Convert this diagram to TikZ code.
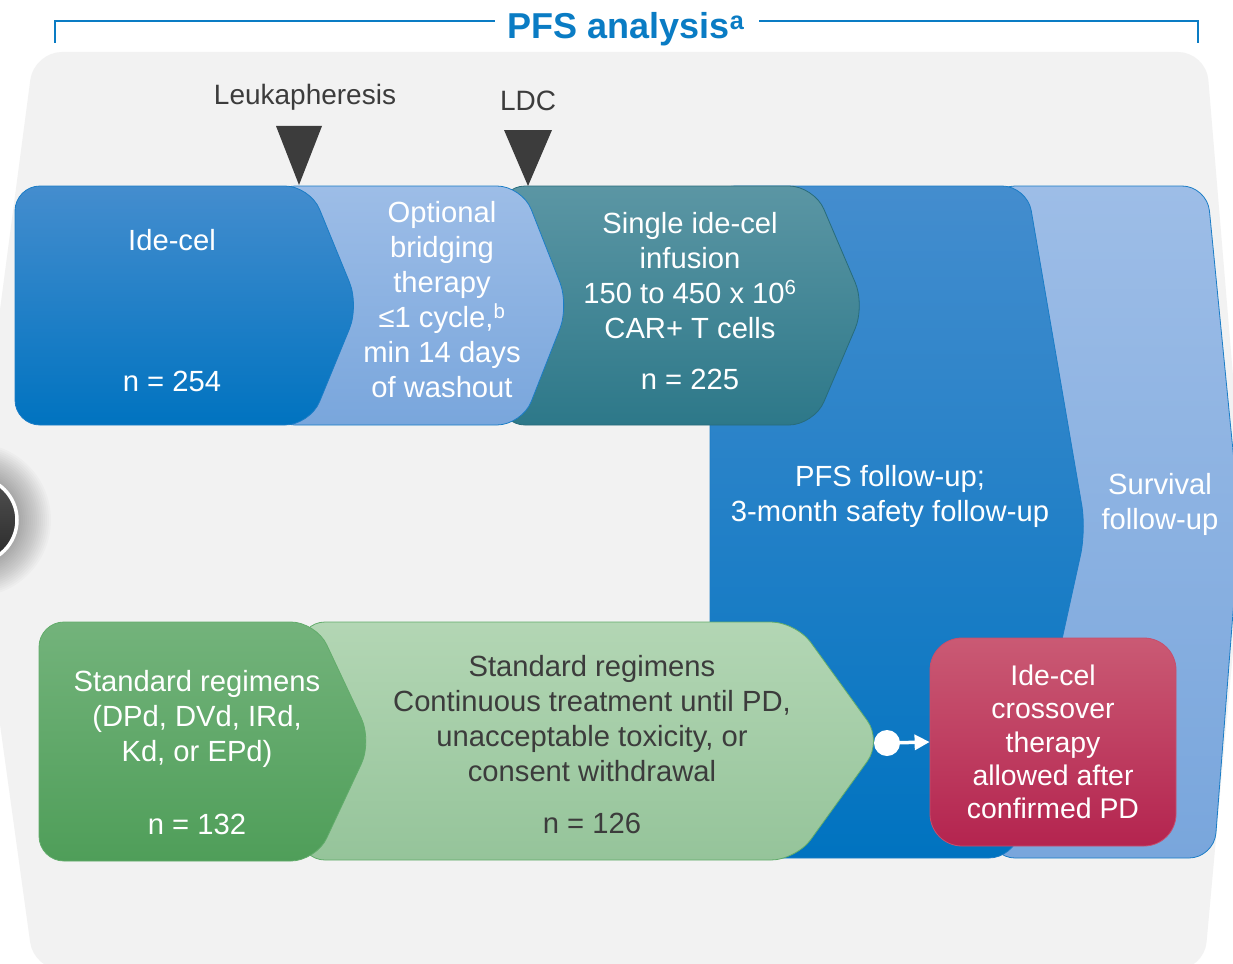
\documentclass[tikz,border=0pt]{standalone}
\usepackage{fontspec}
\setmainfont{Liberation Sans}
\usetikzlibrary{arrows.meta}
\pgfdeclarelayer{background}
\pgfdeclarelayer{foreground}
\pgfsetlayers{background,main,foreground}

\definecolor{panelgray}{HTML}{F2F2F2}
\definecolor{titleblue}{HTML}{0A7CC4}
\definecolor{deepblueT}{HTML}{448DCE}
\definecolor{deepblueB}{HTML}{0073C0}
\definecolor{paleblueT}{HTML}{9DBDE7}
\definecolor{paleblueB}{HTML}{79A6DC}
\definecolor{tealT}{HTML}{5B96A4}
\definecolor{tealB}{HTML}{2D7889}
\definecolor{greenT}{HTML}{73B37B}
\definecolor{greenB}{HTML}{4F9E59}
\definecolor{mintT}{HTML}{B3D6B4}
\definecolor{mintB}{HTML}{95C49A}
\definecolor{roseT}{HTML}{CA5A74}
\definecolor{roseB}{HTML}{B4244F}
\definecolor{inkgray}{HTML}{3C3C3C}
\definecolor{edgeblue}{HTML}{1B7DC6}
\definecolor{edgegreen}{HTML}{62AC6B}

\tikzset{
  txt/.style={font=\fontsize{29.2}{35}\selectfont, align=center, inner sep=0pt, text=white},
  darktxt/.style={txt, text=inkgray},
  timetxt/.style={font=\fontsize{28}{34}\selectfont, inner sep=0pt, text=inkgray},
  arm/.style={rounded corners=25pt, line width=0.8pt},
  marker/.style={fill=inkgray, draw=none},
  bracket/.style={draw=titleblue, line width=1.3pt},
  crossbox/.style={txt, font=\fontsize{28.4}{33.3}\selectfont, rounded corners=32pt,
    minimum width=246pt, minimum height=208pt, draw=roseT!80!roseB, line width=0.8pt,
    top color=roseT, bottom color=roseB},
  link/.style={draw=white, line width=3.5pt, -{Triangle[width=15pt,length=15pt]}},
}

\begin{document}
\begin{tikzpicture}[x=1pt,y=-1pt]
\useasboundingbox (0,0) rectangle (1233,963);
\begin{pgfonlayer}{background}
\fill[white] (0,0) rectangle (1233,963);
\fill[panelgray, rounded corners=28pt] (34,52) -- (1206,52) -- (1245,520) -- (1204,970) -- (34,970) -- (-28,522) -- cycle;
% knob on the left edge
\foreach \r in {45,47,...,77} \fill[black, opacity=0.018] (-26,520) circle[radius=\r pt];
\path[draw=white, line width=3.5pt, top color=black!68, bottom color=black!84] (-26,520) circle[radius=43pt];
\end{pgfonlayer}

% title and bracket
\node[font=\fontsize{36}{40}\selectfont\bfseries, text=titleblue, inner sep=0pt, anchor=base] (pfs) at (626,39) {PFS analysis\textsuperscript{a}};
\coordinate (brL) at (55,43);
\coordinate (brR) at (1198,43);
\draw[bracket] (brL) |- ([shift={(-12pt,18pt)}]pfs.base west);
\draw[bracket] (brR) |- ([shift={(14pt,18pt)}]pfs.base east);

% follow-up arms
\path[arm, draw=edgeblue, top color=paleblueT, bottom color=paleblueB] (990,186) -- (1207,186) -- (1240,522) -- (1214,858) -- (990,858) -- cycle;
\path[arm, draw=edgeblue, top color=deepblueT, bottom color=deepblueB] (710,186) -- (1027,186) -- (1086,530) -- (1014,858) -- (710,858) -- cycle;

% ide-cel arm
\path[arm, draw=tealB!90!black, top color=tealT, bottom color=tealB] (500,186) -- (814,186) -- (865,305.5) -- (814,425) -- (500,425) -- cycle;
\path[arm, draw=edgeblue, top color=paleblueT, bottom color=paleblueB] (270,186) -- (522,186) -- (569,305.5) -- (522,425) -- (270,425) -- cycle;
\path[arm, draw=edgeblue, top color=deepblueT, bottom color=deepblueB] (15,186) -- (310,186) -- (359,305.5) -- (310,425) -- (15,425) -- cycle;

% standard regimens arm
\path[arm, draw=edgegreen, top color=mintT, bottom color=mintB] (300,622) -- (796,622) -- (882,741) -- (796,860) -- (300,860) -- cycle;
\path[arm, draw=edgegreen, top color=greenT, bottom color=greenB] (39,622) -- (316,622) -- (372,741) -- (316,861) -- (39,861) -- cycle;

% timepoints
\node[timetxt] (leuk) at (305,97) {Leukapheresis};
\node[timetxt] (ldc) at (528,101) {LDC};
\fill[marker] (276,126) -- (322,126) -- (299,185) -- cycle;
\fill[marker] (504,130) -- (552,130) -- (528,186) -- cycle;

% labels
\node[txt] (idecel) at (172,240) {Ide-cel};
\node[txt] (idecelN) at (172,381) {n = 254};
\node[txt] (bridge) at (442,300) {Optional\\bridging\\therapy\\≤1 cycle,\textsuperscript{b}\\min 14 days\\of washout};
\node[txt] (infusion) at (690,276) {Single ide-cel\\infusion\\150 to 450 x 10\textsuperscript{6}\\CAR+ T cells};
\node[txt] (infusionN) at (690,379) {n = 225};
\node[txt] (pfsfu) at (890,496) {PFS follow-up;\\3-month safety follow-up};
\node[txt] (osfu) at (1160,504) {Survival\\follow-up};
\node[txt] (stdreg) at (197,719) {Standard regimens\\(DPd, DVd, IRd,\\Kd, or EPd)};
\node[txt] (stdregN) at (197,824) {n = 132};
\node[darktxt] (contreg) at (592,719) {Standard regimens\\Continuous treatment until PD,\\unacceptable toxicity, or\\consent withdrawal};
\node[darktxt] (contregN) at (592,823) {n = 126};

\begin{pgfonlayer}{foreground}
\node[crossbox] (cross) at (1053,742) {Ide-cel\\crossover\\therapy\\allowed after\\confirmed PD};
\coordinate (pd) at (887,743);
\draw[link] (pd) -- (cross.west);
\fill[white] (pd) circle[radius=13pt];
\end{pgfonlayer}
\end{tikzpicture}
\end{document}
